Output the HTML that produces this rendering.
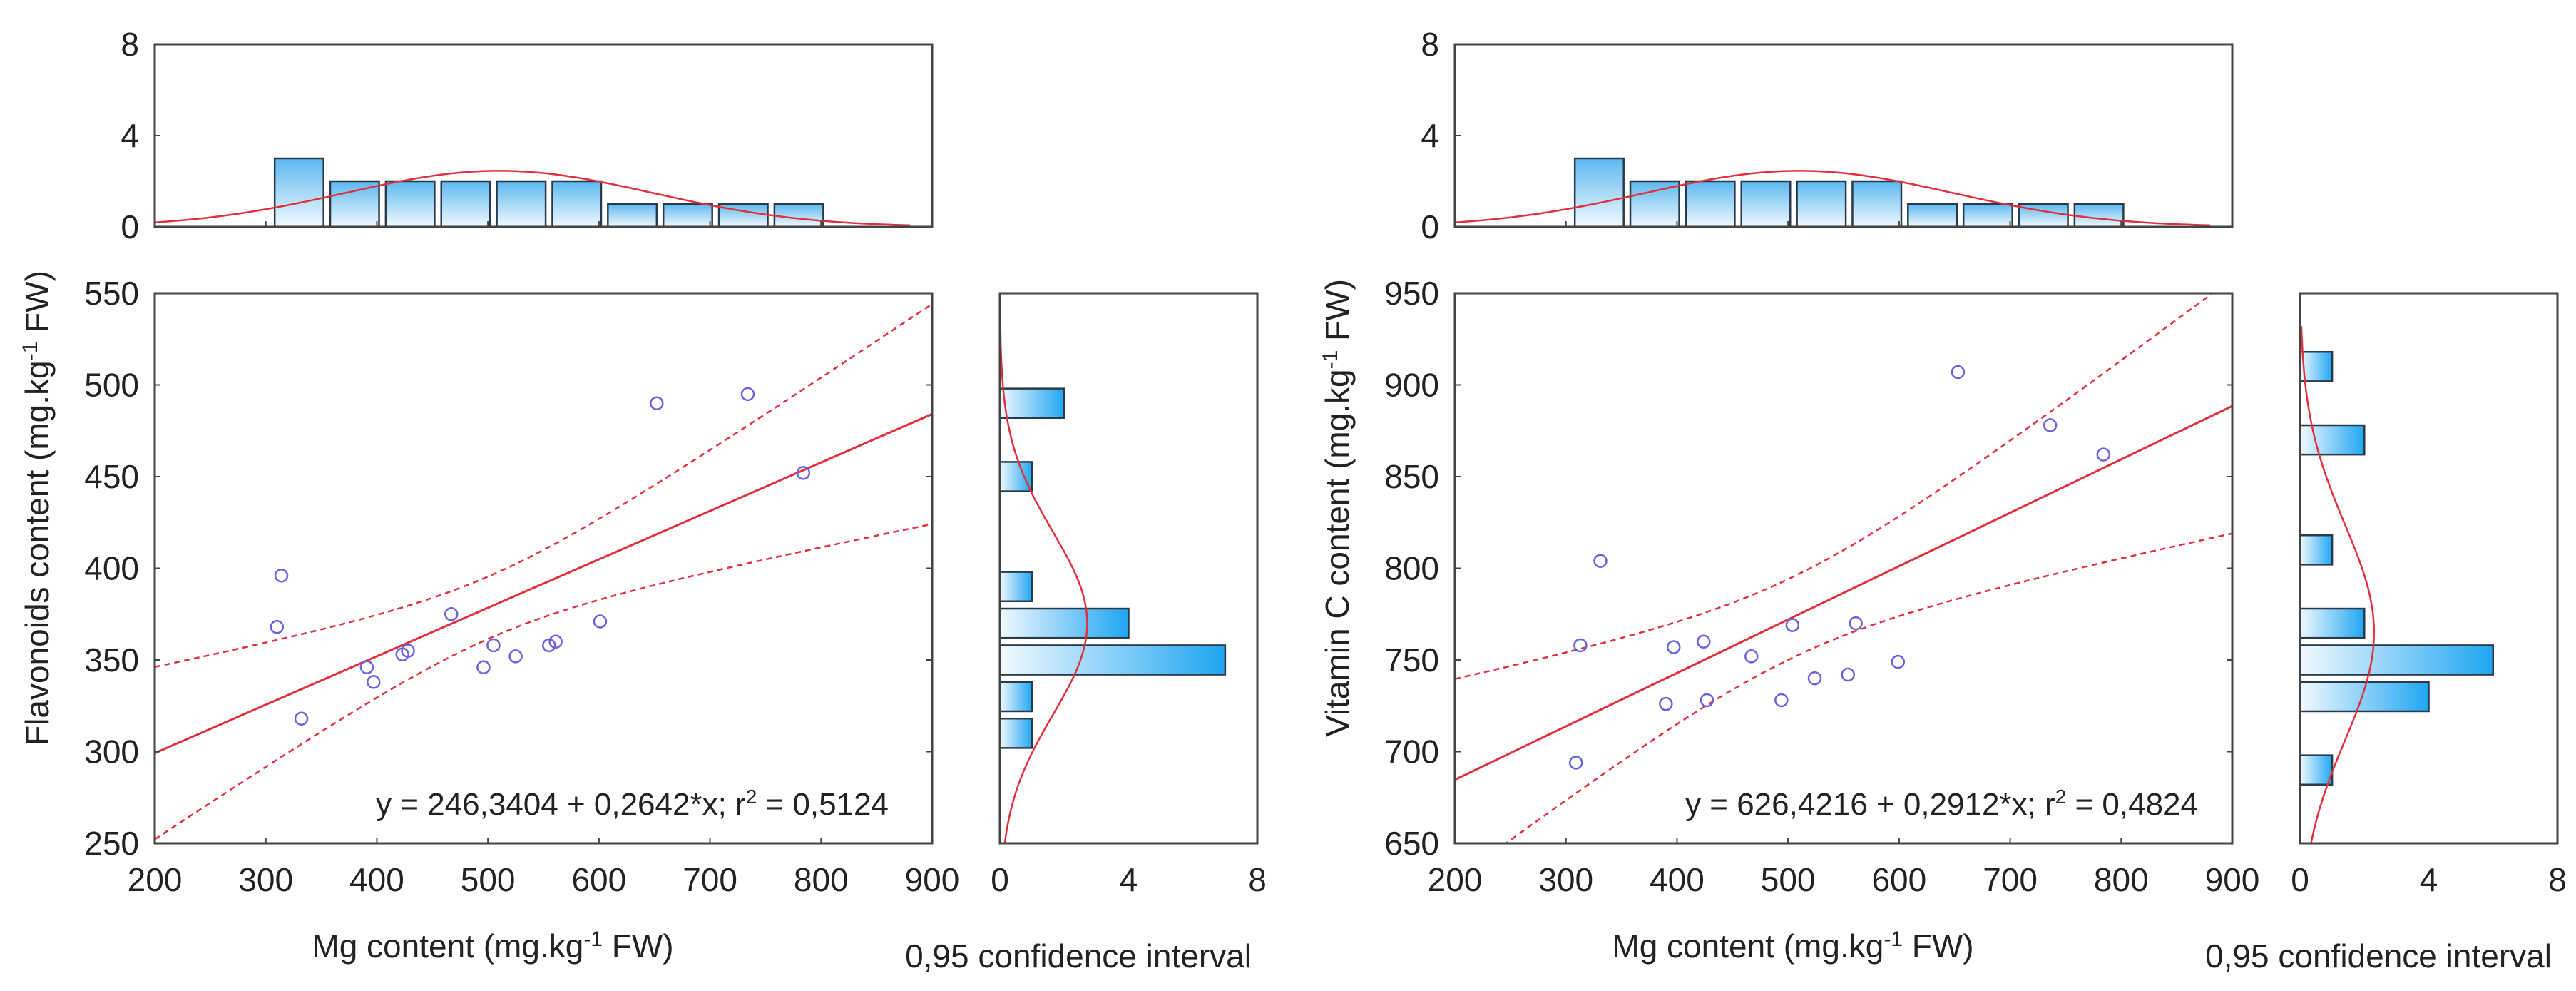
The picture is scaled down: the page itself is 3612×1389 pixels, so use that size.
<!DOCTYPE html>
<html><head><meta charset="utf-8"><style>
html,body{margin:0;padding:0;background:#fff;}
svg{display:block;font-family:"Liberation Sans",Arial,sans-serif;}
</style></head><body>
<svg id="chart" width="3612" height="1389" viewBox="0 0 3612 1389" xmlns="http://www.w3.org/2000/svg">
<defs>
<linearGradient id="gv" x1="0" y1="1" x2="0" y2="0"><stop offset="0" stop-color="#f2f9fe"/><stop offset="1" stop-color="#5cb8f0"/></linearGradient>
<linearGradient id="gh" x1="0" y1="0" x2="1" y2="0"><stop offset="0" stop-color="#f2f9fe"/><stop offset="1" stop-color="#1fa6f2"/></linearGradient>
</defs>
</svg>
<script>
// ---------- DATA ----------
const xTicks = [200,300,400,500,600,700,800,900];
const histTicks = [0,4,8];
const topBinCenters = [330,380,430,480,530,580,630,680,730,780];
const topBinCounts = [3,2,2,2,2,2,1,1,1,1];
const topCurve = [510,138]; // mean, sd of Mg normal fit

const p1Mg = [314,310,332,391,397,423,428,467,496,505,525,555,561,601,652,734,784];
const p1Flav = [396,368,318,346,338,353,355,375,346,358,352,358,360,371,490,495,452];
const p1YTicks = [250,300,350,400,450,500,550];
const p1Fit = [246.3404,0.2642];
const p1Ci = [289,502.6,0.02097];
const p1BinCenters = [490,450,390,370,350,330,310];
const p1BinCounts = [2,1,1,4,7,1,1];
const p1Curve = [370,50];

const p2Mg = [653,736,784,331,313,309,397,424,390,427,467,504,561,494,524,554,599];
const p2VitC = [907,878,862,804,758,694,757,760,726,728,752,769,770,728,740,742,749];
const p2YTicks = [650,700,750,800,850,900,950];
const p2Fit = [626.4216,0.2912];
const p2Ci = [484,503.3,0.02762];
const p2BinCenters = [910,870,810,770,750,730,690];
const p2BinCounts = [1,2,1,2,6,4,1];
const p2Curve = [765,59];

// ---------- DRAW ----------
const NS="http://www.w3.org/2000/svg";
const svg=document.getElementById('chart');
function mk(tag,attrs,parent){const e=document.createElementNS(NS,tag);for(const k in attrs)e.setAttribute(k,attrs[k]);(parent||svg).appendChild(e);return e;}
const RED="#e0303e", FR="#444";

function panel(off, cfg){
  const g=mk('g',{transform:'translate('+off+',0)'});
  
  
  const L=217,R=1307,T=411,B=1182, HT=62,HB=318, RL=1402,RR=1763;
  const [y0,y1]=[cfg.yTicks[0],cfg.yTicks[cfg.yTicks.length-1]];
  const sx=v=>L+(v-200)/700*(R-L);
  const sy=v=>B-(v-y0)/(y1-y0)*(B-T);
  const hy=c=>HB-c/8*(HB-HT);
  const hx=c=>RL+c/8*(RR-RL);
  // top histogram
  const tb=mk('g',{},g);  
  topBinCenters.forEach((c,i)=>{
    const r=mk('rect',{x:sx(c-22),y:hy(topBinCounts[i]),width:sx(c+22)-sx(c-22),height:HB-hy(topBinCounts[i]),fill:'url(#gv)',stroke:'#2a3a4a','stroke-width':2.5},tb);
     
  });
  let d='';
  for(let v=200;v<=880;v+=5){const c=17*50/(topCurve[1]*2.5066)*Math.exp(-0.5*((v-topCurve[0])/topCurve[1])**2);d+=(d?'L':'M')+sx(v).toFixed(1)+' '+hy(c).toFixed(1);}
  const tc=mk('path',{d:d,fill:'none',stroke:RED,'stroke-width':2.5},tb);  
  const tf=mk('rect',{x:L,y:HT,width:R-L,height:HB-HT,fill:'none',stroke:FR,'stroke-width':3},tb);  
  histTicks.forEach(t=>{
    const tx=mk('text',{x:L-22,y:hy(t)+16,'text-anchor':'end','font-size':46,fill:'#222'},tb); tx.textContent=t;
     
    mk('line',{x1:L,x2:L+8,y1:hy(t),y2:hy(t),stroke:FR,'stroke-width':2},tb);
  });
  // scatter
  const sc=mk('g',{},g);  
  const cp=mk('clipPath',{id:'clip'+off},sc); mk('rect',{x:L,y:T,width:R-L,height:B-T},cp);
  const cl=mk('g',{'clip-path':'url(#clip'+off+')'},sc);
  const fit=v=>cfg.fit[0]+cfg.fit[1]*v;
  const hw=v=>Math.sqrt(cfg.ci[0]+cfg.ci[2]*(v-cfg.ci[1])**2);
  let du='',dl='';
  for(let v=200;v<=900;v+=5){du+=(du?'L':'M')+sx(v).toFixed(1)+' '+sy(fit(v)+hw(v)).toFixed(1);dl+=(dl?'L':'M')+sx(v).toFixed(1)+' '+sy(fit(v)-hw(v)).toFixed(1);}
  const u=mk('path',{d:du,fill:'none',stroke:RED,'stroke-width':2.5,'stroke-dasharray':'8 6'},cl);  
  const lo=mk('path',{d:dl,fill:'none',stroke:RED,'stroke-width':2.5,'stroke-dasharray':'8 6'},cl);  
  const rl=mk('line',{x1:sx(200),y1:sy(fit(200)),x2:sx(900),y2:sy(fit(900)),stroke:RED,'stroke-width':3},cl);  
  cfg.xs.forEach((xv,i)=>{
    const c=mk('circle',{cx:sx(xv),cy:sy(cfg.ys[i]),r:8.5,fill:'none',stroke:'#6b62e0','stroke-width':2.5},sc);
     
  });
  const sf=mk('rect',{x:L,y:T,width:R-L,height:B-T,fill:'none',stroke:FR,'stroke-width':3},sc);  
  cfg.yTicks.forEach(t=>{
    const tx=mk('text',{x:L-22,y:sy(t)+16,'text-anchor':'end','font-size':46,fill:'#222'},sc); tx.textContent=t;
     
    mk('line',{x1:L,x2:L+8,y1:sy(t),y2:sy(t),stroke:FR,'stroke-width':2},sc);
    mk('line',{x1:R-8,x2:R,y1:sy(t),y2:sy(t),stroke:FR,'stroke-width':2},sc);
  });
  xTicks.forEach(t=>{
    const tx=mk('text',{x:sx(t),y:1249,'text-anchor':'middle','font-size':46,fill:'#222'},sc); tx.textContent=t;
     
    mk('line',{x1:sx(t),x2:sx(t),y1:B-8,y2:B,stroke:FR,'stroke-width':2},sc);
    mk('line',{x1:sx(t),x2:sx(t),y1:HB-8,y2:HB,stroke:FR,'stroke-width':2},sc);
  });
  const eq=mk('text',{x:cfg.eqX,y:1142,'text-anchor':'end','font-size':44,fill:'#222'},sc);
  eq.innerHTML=cfg.eq+'; r<tspan dy="-16" font-size="28">2</tspan><tspan dy="16"> = '+cfg.r2+'</tspan>';
   
  // right histogram
  const rb=mk('g',{},g);  
  cfg.bins.forEach((c,i)=>{
    const r=mk('rect',{x:RL,y:sy(c+8),width:hx(cfg.counts[i])-RL,height:sy(c-8)-sy(c+8),fill:'url(#gh)',stroke:'#2a3a4a','stroke-width':2.5},rb);
     
  });
  let dr='';const st=(y1-y0)/200;
  for(let v=y0;v<=y0+(y1-y0)*0.94;v+=st){const c=17*20/(cfg.curve[1]*2.5066)*Math.exp(-0.5*((v-cfg.curve[0])/cfg.curve[1])**2);dr+=(dr?'L':'M')+hx(c).toFixed(1)+' '+sy(v).toFixed(1);}
  const rc=mk('path',{d:dr,fill:'none',stroke:RED,'stroke-width':2.5},rb);  
  const rf=mk('rect',{x:RL,y:T,width:RR-RL,height:B-T,fill:'none',stroke:FR,'stroke-width':3},rb);  
  histTicks.forEach(t=>{
    const tx=mk('text',{x:hx(t),y:1249,'text-anchor':'middle','font-size':46,fill:'#222'},rb); tx.textContent=t;
     
  });
  // titles
  const xt=mk('text',{x:691,y:1342,'text-anchor':'middle','font-size':46,fill:'#222'},g);
  xt.innerHTML='Mg content (mg.kg<tspan dy="-16" font-size="30">-1</tspan><tspan dy="16"> FW)</tspan>';
   
  const ci=mk('text',{x:1512,y:1356,'text-anchor':'middle','font-size':46,fill:'#222'},g); ci.textContent='0,95 confidence interval';
   
  const yt=mk('text',{x:0,y:0,'text-anchor':'middle','font-size':46,fill:'#222',transform:'translate('+cfg.ytX+',712) rotate(-90)'},g);
  yt.innerHTML=cfg.ytitle+' (mg.kg<tspan dy="-16" font-size="30">-1</tspan><tspan dy="16"> FW)</tspan>';
   
}
panel(0,{name:'flavonoids-panel',xs:p1Mg,ys:p1Flav,yTicks:p1YTicks,fit:p1Fit,ci:p1Ci,bins:p1BinCenters,counts:p1BinCounts,curve:p1Curve,eq:'y = 246,3404 + 0,2642*x',r2:'0,5124',eqX:1246,ytitle:'Flavonoids content',ytX:68});
panel(1823,{name:'vitamin-c-panel',xs:p2Mg,ys:p2VitC,yTicks:p2YTicks,fit:p2Fit,ci:p2Ci,bins:p2BinCenters,counts:p2BinCounts,curve:p2Curve,eq:'y = 626,4216 + 0,2912*x',r2:'0,4824',eqX:1259,ytitle:'Vitamin C content',ytX:68});
</script>
</body></html>
